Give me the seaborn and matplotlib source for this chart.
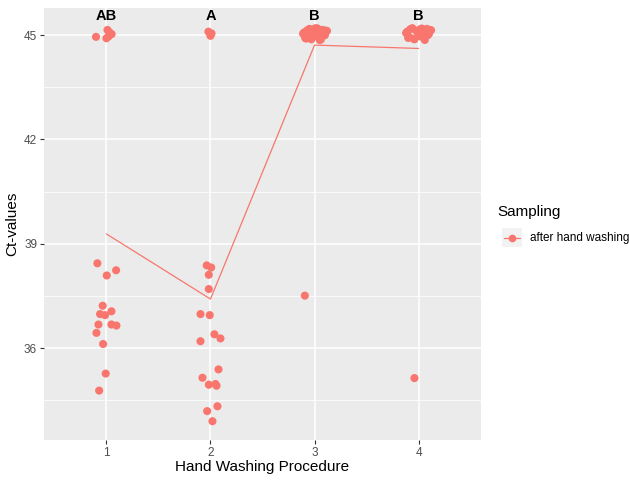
import numpy as np
import pandas as pd
import matplotlib
matplotlib.use("Agg")
import matplotlib.pyplot as plt
from matplotlib.lines import Line2D
from matplotlib.patches import Rectangle
from matplotlib.ticker import FixedLocator
import seaborn as sns

# ---- data ----
procedures = [1, 2, 3, 4]
group_letters = ["AB", "A", "B", "B"]

ct_proc1 = [44.95, 45.15, 45.08, 45.03, 44.91, 44.96,
            38.44, 38.09, 38.24, 37.22, 36.98, 36.95, 37.06, 36.68, 36.68,
            36.65, 36.44, 36.12, 35.27, 34.78]
jit_proc1 = [-0.10, 0.01, 0.03, 0.05, 0.00, 0.02,
             -0.087, 0.003, 0.093, -0.036, -0.061, -0.013, 0.048, -0.077, 0.048,
             0.096, -0.096, -0.032, -0.007, -0.070]

ct_proc2 = [45.10, 45.05, 44.98,
            38.38, 38.32, 38.11, 37.70, 36.98, 36.95, 36.40, 36.28, 36.20,
            35.39, 35.15, 34.95, 34.97, 34.92, 34.33, 34.19, 33.90]
jit_proc2 = [-0.02, 0.01, 0.00,
             -0.036, 0.007, -0.016, -0.016, -0.096, -0.007, 0.038, 0.096, -0.096,
             0.077, -0.077, -0.016, 0.048, 0.058, 0.067, -0.032, 0.019]

ct_proc3 = [37.51,
            45.04, 44.92, 45.14, 45.18, 44.88, 45.10, 45.20, 44.97, 45.06, 44.87, 45.15,
            45.00, 45.12, 44.90, 45.19, 45.02, 44.95, 45.13, 44.86, 45.08, 44.99, 45.16]
jit_proc3 = [-0.093,
             -0.11, -0.09, -0.07, -0.05, -0.03, -0.01, 0.01, 0.02, 0.04, 0.06, 0.08,
             0.10, 0.12, -0.08, 0.03, 0.07, -0.04, 0.11, 0.05, -0.10, 0.09, -0.02]

ct_proc4 = [35.14,
            45.06, 44.92, 45.17, 45.20, 44.88, 45.12, 45.00, 44.96, 45.08, 44.86, 45.18,
            45.04, 45.14, 44.94, 45.19, 45.02, 44.90, 45.15, 44.98, 45.10, 45.00, 45.16]
jit_proc4 = [-0.04,
             -0.12, -0.10, -0.08, -0.06, -0.04, -0.02, 0.00, 0.02, 0.04, 0.06, 0.08,
             0.10, 0.12, -0.09, 0.03, 0.07, -0.05, 0.11, 0.05, -0.11, 0.09, 0.01]

sampling_label = "after hand washing"

# ---- build table ----
rows = []
for proc, cts, jits in zip(procedures,
                           [ct_proc1, ct_proc2, ct_proc3, ct_proc4],
                           [jit_proc1, jit_proc2, jit_proc3, jit_proc4]):
    for c, j in zip(cts, jits):
        rows.append({"Procedure": proc, "Ct": c, "Jitter": j, "Sampling": sampling_label})
df = pd.DataFrame(rows)
df["ProcJ"] = df["Procedure"] + df["Jitter"]

red = "#F8766D"

sns.set_theme(style="darkgrid")
plt.rcParams["font.family"] = ["Liberation Sans", "DejaVu Sans"]

fig = plt.figure(figsize=(6.29, 4.8), dpi=100)
ax = fig.add_axes([44 / 629, 40 / 480, (481 - 44) / 629, (472 - 40) / 480])
ax.set_facecolor("#EBEBEB")

sns.scatterplot(data=df, x="ProcJ", y="Ct", color=red, s=34, edgecolor="none",
                ax=ax, legend=False, zorder=3)
sns.lineplot(data=df, x="Procedure", y="Ct", estimator="mean", errorbar=None,
             color=red, linewidth=0.9, ax=ax, legend=False, zorder=2)

for p, lab in zip(procedures, group_letters):
    ax.text(p, 45.55, lab, ha="center", va="center", fontsize=10.5,
            fontweight="bold", color="black", zorder=4)

ax.set_xlim(0.4, 4.6)
ax.set_ylim(33.36, 45.78)
ax.xaxis.set_major_locator(FixedLocator(procedures))
ax.set_xticklabels([str(p) for p in procedures])
ax.yaxis.set_major_locator(FixedLocator([36, 39, 42, 45]))
ax.yaxis.set_minor_locator(FixedLocator([34.5, 37.5, 40.5, 43.5]))

ax.grid(which="major", color="white", linewidth=1.1)
ax.grid(which="minor", axis="y", color="white", linewidth=0.55)
ax.set_axisbelow(True)
for s in ax.spines.values():
    s.set_visible(False)

ax.tick_params(axis="both", which="major", length=3, width=0.8, color="#333333",
               labelsize=8.5, labelcolor="#4D4D4D", pad=2, direction="out",
               bottom=True, left=True)
ax.tick_params(axis="both", which="minor", length=0)

ax.set_xlabel("Hand Washing Procedure", fontsize=11, color="black", labelpad=1)
ax.set_ylabel("Ct-values", fontsize=11, color="black", labelpad=3)

# legend
fig.text(497 / 629, 1 - 212 / 480, "Sampling", fontsize=11, ha="left", va="center", color="black")
fig.patches.append(Rectangle((502 / 629, 1 - 247 / 480), 20 / 629, 19 / 480,
                             transform=fig.transFigure, facecolor="#F2F2F2",
                             edgecolor="none", figure=fig))
fig.add_artist(Line2D([504 / 629, 520 / 629], [1 - 237.5 / 480, 1 - 237.5 / 480],
                      transform=fig.transFigure, color=red, linewidth=0.9))
fig.add_artist(Line2D([512 / 629], [1 - 237.5 / 480], transform=fig.transFigure,
                      color=red, marker="o", markersize=5.5, markeredgewidth=0,
                      linestyle="none"))
fig.text(530 / 629, 1 - 237.5 / 480, sampling_label, fontsize=8.5, ha="left",
         va="center", color="black")

fig.savefig("out.png", dpi=100)
